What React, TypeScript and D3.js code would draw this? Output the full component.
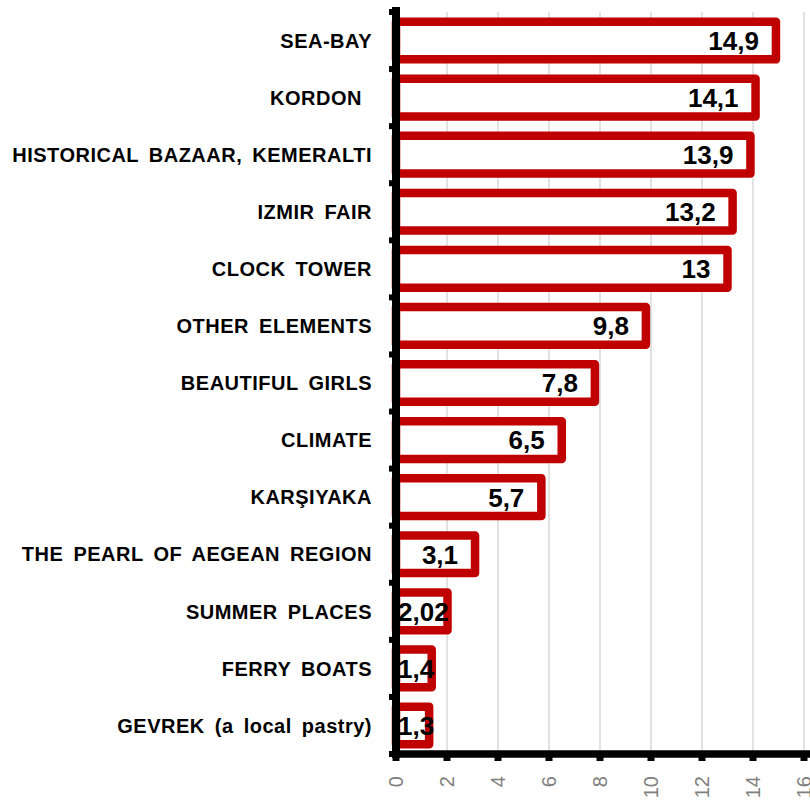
import * as d3 from "d3";
import { useEffect, useRef } from "react";

const categories = [
  "SEA-BAY",
  "KORDON ",
  "HISTORICAL BAZAAR, KEMERALTI",
  "IZMIR FAIR",
  "CLOCK TOWER",
  "OTHER ELEMENTS",
  "BEAUTIFUL GIRLS",
  "CLIMATE",
  "KARŞIYAKA",
  "THE PEARL OF AEGEAN REGION",
  "SUMMER PLACES",
  "FERRY BOATS",
  "GEVREK (a local pastry)",
];
const values = [14.9, 14.1, 13.9, 13.2, 13, 9.8, 7.8, 6.5, 5.7, 3.1, 2.02, 1.4, 1.3];
const xTicks = [0, 2, 4, 6, 8, 10, 12, 14, 16];

const FONT = "'Liberation Sans', Arial, sans-serif";
const RED = "#c00000";

function App() {
  const svgRef = useRef<SVGSVGElement>(null);

  useEffect(() => {
    const svg = d3.select(svgRef.current);
    svg.selectAll("*").remove();

    const left = 396;
    const right = 804;
    const top = 12;
    const bottom = 754;

    const xScale = d3.scaleLinear().domain([0, 16]).range([left, right]);
    const yScale = d3
      .scaleBand<string>()
      .domain(categories)
      .range([top, bottom])
      .paddingInner(0.34)
      .paddingOuter(0.17);

    const step = yScale.step();
    const fmt = (v: number) => String(v).replace(".", ",");

    // gridlines
    svg
      .append("g")
      .selectAll("line")
      .data(xTicks.slice(1))
      .join("line")
      .attr("x1", (d) => xScale(d))
      .attr("x2", (d) => xScale(d))
      .attr("y1", top)
      .attr("y2", bottom)
      .attr("stroke", "#d9d9d9")
      .attr("stroke-width", 1.5);

    // bars
    svg
      .append("g")
      .selectAll("rect")
      .data(values)
      .join("rect")
      .attr("x", xScale(0))
      .attr("y", (d, i) => yScale(categories[i])!)
      .attr("width", (d) => xScale(d) - xScale(0))
      .attr("height", yScale.bandwidth())
      .attr("fill", "#fff")
      .attr("stroke", RED)
      .attr("stroke-width", 8.5)
      .attr("stroke-linejoin", "round");

    // value labels
    const vl = svg.append("g");
    values.forEach((v, i) => {
      const t = vl
        .append("text")
        .attr("y", yScale(categories[i])! + yScale.bandwidth() / 2)
        .attr("dy", "0.36em")
        .attr("font-family", FONT)
        .attr("font-weight", "bold")
        .attr("font-size", 26)
        .attr("fill", "#000")
        .text(fmt(v));
      const w = (t.node() as SVGTextElement).getComputedTextLength();
      const endX = xScale(v) - 17;
      if (endX - w < xScale(0) + 2) {
        t.attr("x", xScale(0) + 2).attr("text-anchor", "start");
      } else {
        t.attr("x", endX).attr("text-anchor", "end");
      }
    });

    // category labels
    svg
      .append("g")
      .selectAll("text")
      .data(categories)
      .join("text")
      .attr("x", 372)
      .attr("y", (d) => yScale(d)! + yScale.bandwidth() / 2)
      .attr("dy", "0.36em")
      .attr("text-anchor", "end")
      .attr("font-family", FONT)
      .attr("font-weight", "bold")
      .attr("font-size", 20)
      .attr("letter-spacing", 0.5)
      .attr("word-spacing", 4)
      .style("white-space", "pre")
      .attr("fill", "#000")
      .text((d) => d);

    // left axis
    const boundaries = d3.range(categories.length + 1).map((i) => top + i * step);
    svg
      .append("g")
      .selectAll("line")
      .data(boundaries)
      .join("line")
      .attr("x1", 389)
      .attr("x2", left)
      .attr("y1", (d) => d)
      .attr("y2", (d) => d)
      .attr("stroke", "#000")
      .attr("stroke-width", 6);
    svg
      .append("line")
      .attr("x1", left)
      .attr("x2", left)
      .attr("y1", top - 5)
      .attr("y2", bottom + 4)
      .attr("stroke", "#000")
      .attr("stroke-width", 8);

    // bottom axis
    svg
      .append("g")
      .selectAll("line")
      .data(xTicks)
      .join("line")
      .attr("x1", (d) => xScale(d))
      .attr("x2", (d) => xScale(d))
      .attr("y1", bottom)
      .attr("y2", bottom + 7)
      .attr("stroke", "#000")
      .attr("stroke-width", 7);
    svg
      .append("line")
      .attr("x1", left - 4)
      .attr("x2", 810)
      .attr("y1", bottom)
      .attr("y2", bottom)
      .attr("stroke", "#000")
      .attr("stroke-width", 7.5);

    // tick labels (the last one runs off the right edge, as in the original)
    svg
      .append("g")
      .selectAll("text")
      .data(xTicks)
      .join("text")
      .attr("transform", (d) => `translate(${xScale(d)},776) rotate(-90)`)
      .attr("dy", "0.36em")
      .attr("text-anchor", "end")
      .attr("font-family", FONT)
      .attr("font-size", 20)
      .attr("fill", "#808080")
      .text((d) => String(d));
  }, []);

  return (
    <svg
      ref={svgRef}
      width={810}
      height={802}
      style={{ position: "absolute", left: 0, top: 0, background: "#fff" }}
    ></svg>
  );
}

export default App;
